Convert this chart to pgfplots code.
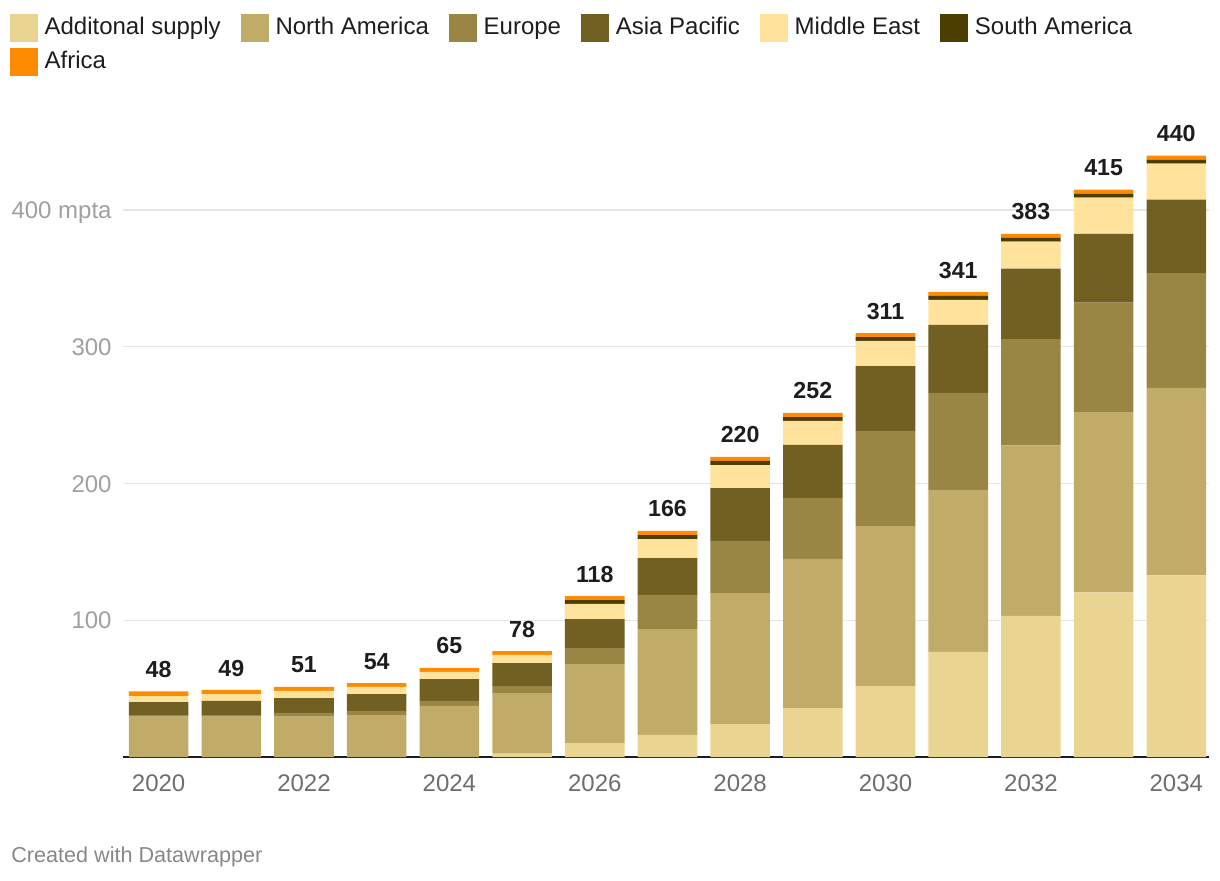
\documentclass[border=0pt]{standalone}
\usepackage{fontspec}
\setmainfont{Liberation Sans}
\usepackage{pgfplots}
\usepackage{pgfplotstable}
\pgfplotsset{compat=1.18}
\definecolor{cAdd}{HTML}{E9D591}
\definecolor{cNA}{HTML}{C1AB69}
\definecolor{cEU}{HTML}{998645}
\definecolor{cAP}{HTML}{725F22}
\definecolor{cME}{HTML}{FFE29B}
\definecolor{cSA}{HTML}{4C3D00}
\definecolor{cAF}{HTML}{FF8C00}
\definecolor{gridc}{HTML}{E6E6E6}
\definecolor{ytc}{HTML}{A0A0A0}
\definecolor{xtc}{HTML}{6E6E6E}
\definecolor{footc}{HTML}{888888}
\definecolor{txt}{HTML}{1D1D1D}
\pgfplotstableread{
x add na eu ap me sa af lbl
0 0 29.5 1.2 9.5 4.4 0 3.4 48
1 0 29.5 1.2 10.3 5.0 0 3.0 49
2 0 29.5 2.7 10.9 5.2 0 2.9 51
3 0 30.7 2.9 12.4 5.2 0 2.9 54
4 0 37.3 3.7 16.0 5.2 0 2.9 65
5 2.5 44.3 5.1 16.8 5.9 0 2.9 78
6 10.2 57.8 11.7 21.2 11.0 2.9 2.9 118
7 16.1 77.5 24.9 27.0 13.9 2.9 3.0 166
8 24.1 95.8 38.1 38.7 16.8 3.0 2.9 220
9 35.8 109.0 44.6 38.8 17.5 2.9 3.0 252
10 51.9 117.0 69.5 47.5 18.3 2.9 2.9 311
11 76.8 118.4 71.0 49.7 18.3 2.9 2.9 341
12 103.2 124.6 77.7 51.6 19.7 2.9 2.9 383
13 120.3 131.9 80.0 50.4 26.4 2.9 2.9 415
14 132.8 137.1 84.0 53.6 26.4 2.9 2.9 440
}\data
\pgfplotsset{sq/.style={legend image code/.code={\fill[##1] (0pt,-3.75pt) rectangle (14pt,10.15pt);}}}
\begin{document}
\begin{tikzpicture}
\useasboundingbox (0,0) rectangle (610pt,440pt);
\begin{axis}[
  at={(61.5pt,61.5pt)}, anchor=south west,
  scale only axis, width=543pt, height=307.7pt,
  xmin=-0.49, xmax=14.45, ymin=0, ymax=450,
  ybar stacked, bar width=0.82,
  axis lines*=left,
  y axis line style={draw=none},
  x axis line style={draw=txt, line width=1pt},
  major tick length=0pt,
  /pgf/number format/assume math mode=true,
  xtick={0,2,...,14},
  xticklabels={2020,2022,2024,2026,2028,2030,2032,2034},
  ytick={100,200,300,400},
  yticklabels={100,200,300,400 mpta},
  ymajorgrids,
  grid style={draw=gridc, line width=0.75pt},
  xticklabel style={font=\fontsize{12}{14}\selectfont, text=xtc, anchor=north, inner sep=0pt, yshift=-8.5pt},
  yticklabel style={font=\fontsize{12}{14}\selectfont, text=ytc, anchor=base east, inner sep=0pt, xshift=-5.5pt, yshift=-4.3pt},
  clip=false,
  legend columns=6,
  legend cell align=left,
  legend style={at={(-0.10405,1.2073)}, anchor=north west, draw=none, fill=none,
    inner sep=0pt, outer sep=0pt, row sep=3.25pt,
    font=\fontsize{12}{14}\selectfont, text=txt,
    cells={anchor=base west},
    nodes={inner xsep=3.3pt, inner ysep=0pt},
    /tikz/every even column/.append style={column sep=6.8pt}},
]
\addplot[fill=cAdd, draw=none, sq] table[x=x, y=add]{\data};
\addlegendentry{Additonal supply}
\addplot[fill=cNA, draw=none, sq] table[x=x, y=na]{\data};
\addlegendentry{North America}
\addplot[fill=cEU, draw=none, sq] table[x=x, y=eu]{\data};
\addlegendentry{Europe}
\addplot[fill=cAP, draw=none, sq] table[x=x, y=ap]{\data};
\addlegendentry{Asia Pacific}
\addplot[fill=cME, draw=none, sq] table[x=x, y=me]{\data};
\addlegendentry{Middle East}
\addplot[fill=cSA, draw=none, sq] table[x=x, y=sa]{\data};
\addlegendentry{South America}
\addplot[fill=cAF, draw=none, sq, nodes near coords, point meta=explicit symbolic,
  every node near coord/.append style={anchor=base, yshift=8pt, inner sep=0pt,
    font=\fontsize{11.6}{14}\selectfont\bfseries, text=txt}]
  table[x=x, y=af, meta=lbl]{\data};
\addlegendentry{Africa}
\end{axis}
\node[anchor=base west, inner sep=0pt, font=\fontsize{10.8}{12}\selectfont, text=footc] at (5.5pt,9pt) {Created with Datawrapper};
\end{tikzpicture}
\end{document}
